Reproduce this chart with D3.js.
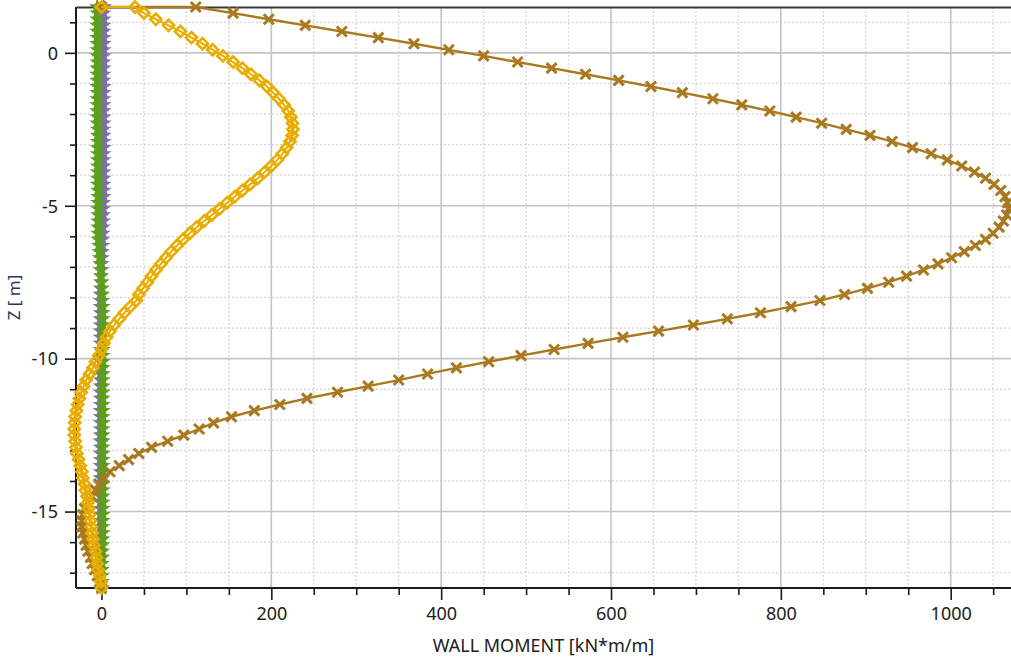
<!DOCTYPE html>
<html>
<head>
<meta charset="utf-8">
<script src="https://cdn.jsdelivr.net/npm/d3@7"></script>
<style>
  html, body { margin: 0; padding: 0; background: #ffffff; }
  svg { display: block; }
  text { font-family: "Noto Sans", "Open Sans", sans-serif; }
</style>
</head>
<body>
<svg id="chart" width="1011" height="660"></svg>
<script>
// ---- data ----
const depth = [1.5,1.5,1.3,1.1,0.9,0.7,0.5,0.3,0.1,-0.1,-0.3,-0.5,-0.7,-0.9,-1.1,-1.3,-1.5,-1.7,-1.9,-2.1,-2.3,-2.5,-2.7,-2.9,-3.1,-3.3,-3.5,-3.7,-3.9,-4.1,-4.3,-4.5,-4.7,-4.9,-5.1,-5.3,-5.5,-5.7,-5.9,-6.1,-6.3,-6.5,-6.7,-6.9,-7.1,-7.3,-7.5,-7.7,-7.9,-8.1,-8.3,-8.5,-8.7,-8.9,-9.1,-9.3,-9.5,-9.7,-9.9,-10.1,-10.3,-10.5,-10.7,-10.9,-11.1,-11.3,-11.5,-11.7,-11.9,-12.1,-12.3,-12.5,-12.7,-12.9,-13.1,-13.3,-13.5,-13.7,-13.9,-14.1,-14.3,-14.5,-14.7,-14.9,-15.1,-15.3,-15.5,-15.7,-15.9,-16.1,-16.3,-16.5,-16.7,-16.9,-17.1,-17.3,-17.5];

const momentBrown = [0,111,155,197,240,283,326,368,409,450,
  490,530,570,609,647,684,720,754,787,818,
  848,877,905,931,955,977,996,1013,1028,1041,
  1051,1059,1064,1067,
  1068,1066,1062,1057,1050,1041,1029,1016,1001,985,
  968,948,927,902,875,846,812,776,737,697,
  656,614,573,533,494,456,418,384,350,314,
  278,242,210,180,153,132,115,97,78,59,
  44,32,21,10,3,-3,-7,-11,-16,-20,
  -22,-23,-23,-22,-20,-18,-16,-13,-11,-8,
  -5,-2,0];

const momentYellow = [0,39.5,50,64,79,93,106,119,131,143,
  155,166,176,186,195,202,209,215,220,223,
  225,225.5,224.5,222,218,213,207,200,192,184,
  175,166,157,148,139,130,121,112,104,96,
  89,82,76,70,64,59,54,49,44,41,
  34,27,21,15,10,6,3,0,-3,-7,
  -10,-14,-18,-21,-24,-26,-28,-29.5,-31,-31.5,
  -32,-32,-31,-30,-29,-27,-25,-23,-22,-20,
  -19,-17,-16,-15,-14,-13,-12,-11,-10,-9,
  -7,-6,-5,-4,-2,-0.5,0];

const momentGreen = [-5,-5,-5,-5,-5,-5,-5,-5,-5,-5,
  -5,-5,-5,-5,-5,-5,-5,-5,-5,-5,
  -5,-4.5,-4.5,-4.5,-4.5,-4.5,-4.5,-4.5,-4.5,-4.5,
  -4.5,-4,-4,-4,-4,-4,-4,-4,-4,-3.5,
  -3,-2.5,-2,-1.5,-1,-0.5,0,0.5,1,1,
  1.5,1.5,1.5,1.5,1.5,1.5,1.5,1.5,1.5,1.5,
  1.5,1.5,1.5,1.5,1.5,1.5,1.5,1.5,1.5,1.5,
  1.5,1.5,1.5,1.5,1.5,1.5,1.5,1.5,1.5,1.5,
  1.5,1.5,1.5,1.5,1.5,1.5,1.5,1.5,1.5,1,
  1,1,0.5,0.5,0.5,0,0];

const momentPurple = [2.5,2.5,2.5,2.5,2.5,2.5,2.5,2.5,2.5,2.5,
  2.5,2.5,2.5,2.5,2.5,2.5,2.5,2.5,2.5,2.5,
  2.5,2.5,2.5,2.5,2.5,2.5,2.5,2.5,2.5,2.5,
  2.5,2.5,2.5,2,2,2,2,1.5,1.5,1,
  1,0.5,0.5,0,0,-0.5,-0.5,-1,-1,-1,
  -1,-1,-1,-1,-1,-1,-1,-1,-1,-1,
  -1,-1,-1,-1,-1,-1,-1,-1,-1,-1,
  -1,-1,-1,-1,-1,-1,-1,-1,-1,-1,
  -1,-1,-1,-1,-1,-1,-1,-1,-1,-1,
  -1,-1,-1,-0.5,-0.5,0,0];

const xMajorTicks = [0,200,400,600,800,1000];
const yMajorTicks = [0,-5,-10,-15];
const xTitle = "WALL MOMENT [kN*m/m]";
const yTitle = "Z [ m]";

// ---- layout ----
const svg = d3.select("#chart");
const L = 76, R = 1011, T = 7, B = 588;
const x = d3.scaleLinear().domain([-30, 1071]).range([L, R]);
const y = d3.scaleLinear().domain([1.5, -17.5]).range([T, B]);

const xMinor = d3.range(50, 1071, 50).filter(v => v % 200 !== 0);
const yMinor = d3.range(1, -17.6, -1).filter(v => v % 5 !== 0);
const xAllTicks = d3.range(0, 1071, 50);
const yAllTicks = d3.range(1, -17.6, -1);

// grid
const grid = svg.append("g");
grid.selectAll(".vmin").data(xMinor).join("line")
  .attr("x1", d => x(d)).attr("x2", d => x(d)).attr("y1", T).attr("y2", B)
  .attr("stroke", "#d6d6d6").attr("stroke-width", 1.3).attr("stroke-dasharray", "2,2");
grid.selectAll(".hmin").data(yMinor).join("line")
  .attr("x1", L).attr("x2", R).attr("y1", d => y(d)).attr("y2", d => y(d))
  .attr("stroke", "#d6d6d6").attr("stroke-width", 1.3).attr("stroke-dasharray", "2,2");
grid.selectAll(".vmaj").data(xMajorTicks).join("line")
  .attr("x1", d => x(d)).attr("x2", d => x(d)).attr("y1", T).attr("y2", B)
  .attr("stroke", "#c4c4c4").attr("stroke-width", 1.6);
grid.selectAll(".hmaj").data(yMajorTicks).join("line")
  .attr("x1", L).attr("x2", R).attr("y1", d => y(d)).attr("y2", d => y(d))
  .attr("stroke", "#c4c4c4").attr("stroke-width", 1.6);

// axes
const xAxis = d3.axisBottom(x).tickValues(xAllTicks)
  .tickSize(7).tickFormat(d => xMajorTicks.includes(d) ? d : "");
const gx = svg.append("g").attr("transform", `translate(0,${B})`).call(xAxis);
gx.select(".domain").attr("stroke", "#1a1a1a").attr("stroke-width", 2)
  .attr("d", `M${L},0H${R}`);
gx.selectAll(".tick line").attr("stroke", "#1a1a1a").attr("stroke-width", 1.6)
  .attr("y2", d => xMajorTicks.includes(d) ? 12 : 7);
gx.selectAll(".tick text").attr("y", 26).attr("dy", "0.35em")
  .attr("font-size", 18).attr("fill", "#202020")
  .style("font-family", "'Noto Sans', 'Open Sans', sans-serif");

const yAxis = d3.axisLeft(y).tickValues(yAllTicks)
  .tickSize(6).tickFormat(d => yMajorTicks.includes(d) ? d : "");
const gy = svg.append("g").attr("transform", `translate(${L},0)`).call(yAxis);
gy.select(".domain").attr("stroke", "#1a1a1a").attr("stroke-width", 2)
  .attr("d", `M0,${T}V${B}`);
gy.selectAll(".tick line").attr("stroke", "#1a1a1a").attr("stroke-width", 1.6)
  .attr("x2", d => yMajorTicks.includes(d) ? -11 : -6);
gy.selectAll(".tick text").attr("x", -18).attr("dy", "0.35em")
  .attr("font-size", 18).attr("fill", "#202020")
  .style("font-family", "'Noto Sans', 'Open Sans', sans-serif");

// top border
svg.append("line").attr("x1", L).attr("x2", R).attr("y1", T + 0.5).attr("y2", T + 0.5)
  .attr("stroke", "#3a3a3a").attr("stroke-width", 2);

// titles
svg.append("text").attr("x", (L + R) / 2).attr("y", 652).attr("text-anchor", "middle")
  .attr("font-size", 18).attr("fill", "#202020").text(xTitle);
svg.append("text").attr("transform", `translate(20,${(T + B) / 2}) rotate(-90)`)
  .attr("text-anchor", "middle").attr("font-size", 17).attr("fill", "#33335e").text(yTitle);

// series
function seriesData(vals) { return vals.map((v, i) => ({ m: v, z: depth[i] })); }
const line = d3.line().x(d => x(d.m)).y(d => y(d.z));

const series = [
  { vals: momentPurple, color: "#7d6fae", marker: d3.symbol().type(d3.symbolStar).size(80)(), fill: true, lw: 2 },
  { vals: momentGreen, color: "#5d9e1e", marker: d3.symbol().type(d3.symbolStar).size(80)(), fill: true, lw: 2 },
  { vals: momentBrown, color: "#a8791f", marker: "M-5,-5L5,5M-5,5L5,-5", fill: false, lw: 2.4, mw: 3 },
  { vals: momentYellow, color: "#e8ad00", marker: "M0,-5.6L5.6,0L0,5.6L-5.6,0Z", fill: false, lw: 2, mw: 2.6 }
];

series.forEach(s => {
  const data = seriesData(s.vals);
  const g = svg.append("g");
  g.append("path").datum(data).attr("d", line)
    .attr("fill", "none").attr("stroke", s.color).attr("stroke-width", s.lw);
  g.selectAll("path.mk").data(data).join("path").attr("class", "mk")
    .attr("transform", d => `translate(${x(d.m)},${y(d.z)})`)
    .attr("d", s.marker)
    .attr("fill", s.fill ? s.color : "none")
    .attr("stroke", s.fill ? "none" : s.color)
    .attr("stroke-width", s.mw || 0);
});
</script>
</body>
</html>
